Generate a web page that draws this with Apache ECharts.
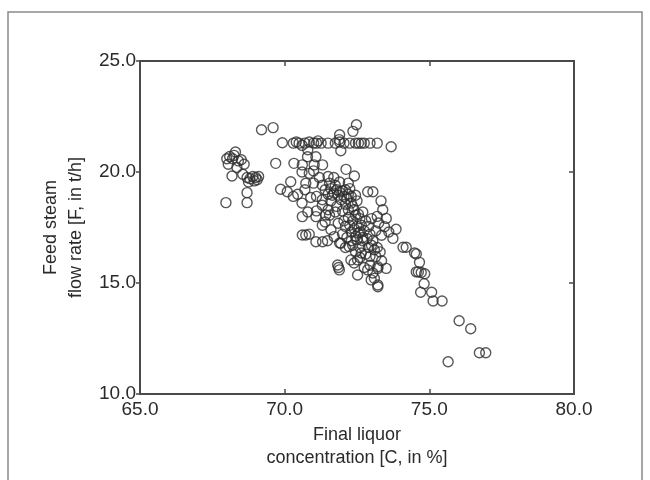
<!DOCTYPE html>
<html><head><meta charset="utf-8">
<script src="https://cdn.jsdelivr.net/npm/echarts@6/dist/echarts.min.js"></script>
<style>html,body{margin:0;padding:0;background:#fff}#c{width:650px;height:480px}</style>
</head><body><div id="c"></div>
<script>
const xTicks = [65, 70, 75, 80];
const yTicks = [10, 15, 20, 25];
const xTitle = 'Final liquor\nconcentration [C, in %]';
const yTitle = 'Feed steam\nflow rate [F, in t/h]';
// Final liquor concentration [%]
const concentration = [
67.97,68.0,68.05,68.1,68.2,68.3,68.18,68.4,68.5,68.6,68.55,68.7,68.8,68.9,69.0,69.1,68.75,68.95,68.7,68.7,68.35,69.05,68.25,
69.2,69.6,69.69,
69.92,70.3,70.4,70.5,70.6,70.7,70.85,71.0,71.15,71.26,71.5,71.75,71.9,72.05,72.25,72.45,72.55,72.65,72.75,72.95,73.2,71.1,70.8,72.48,72.36,71.9,71.88,71.94,73.68,
70.32,70.61,70.79,71.08,71.02,71.31,70.85,70.73,70.21,69.86,70.09,72.12,72.41,70.6,71.0,71.2,
70.45,70.3,70.7,70.9,70.6,70.8,71.1,71.3,71.5,71.0,71.3,71.4,71.5,71.55,71.6,71.7,71.75,71.8,71.85,71.9,72.0,72.05,72.1,72.2,72.25,72.3,71.5,71.7,71.9,72.2,71.1,71.3,71.6,71.8,72.0,72.1,72.2,72.3,72.4,72.5,72.45,72.2,72.35,72.5,72.6,72.65,72.75,72.3,72.1,72.0,71.85,72.55,72.7,72.8,72.9,72.95,73.0,72.6,72.45,
71.9,72.1,72.23,72.3,72.5,72.6,72.7,72.85,73.0,73.1,73.2,73.3,72.8,72.95,72.29,72.52,72.4,72.6,72.75,72.87,72.95,73.05,73.22,73.22,73.51,73.1,73.22,73.22,72.99,72.52,71.83,71.89,71.86,73.15,73.35,
70.61,70.61,70.73,70.85,71.08,71.31,71.48,71.71,71.08,71.42,71.94,71.6,71.3,
72.87,73.05,73.33,73.39,73.51,73.45,73.85,73.74,73.6,73.35,73.25,73.2,74.09,74.2,74.49,74.55,74.66,74.55,74.62,74.72,74.84,74.82,74.7,75.08,75.13,75.44,76.03,76.43,76.73,76.95,75.65,
71.65,71.95,72.15,72.35,72.45,72.05,72.25,72.4,72.55,72.7,72.15,72.35,72.45,72.65,72.9,73.05,73.15,71.75,71.55,71.4
];
// Feed steam flow rate [t/h]
const flowRate = [
18.62,20.6,20.35,20.7,20.6,20.9,19.82,20.5,20.55,20.35,19.9,19.75,19.7,19.8,19.75,19.8,19.55,19.6,19.07,18.62,20.2,19.65,20.75,
21.9,22.0,20.39,
21.32,21.3,21.35,21.3,21.2,21.3,21.35,21.3,21.4,21.3,21.3,21.3,21.35,21.3,21.3,21.3,21.3,21.3,21.3,21.3,21.3,21.3,21.0,22.13,21.83,21.68,21.46,20.96,21.14,
20.39,20.32,20.69,20.69,20.32,20.32,19.94,19.49,19.56,19.22,19.11,20.12,19.82,20.0,20.05,19.75,
19.0,18.9,19.2,18.85,18.6,18.2,18.25,18.5,18.3,19.5,19.4,19.2,19.0,19.5,19.25,19.05,19.4,19.2,18.95,19.1,19.15,18.9,19.2,19.0,19.25,18.9,19.8,19.75,19.55,19.5,18.9,18.75,18.7,18.45,18.25,18.55,18.3,18.6,18.3,18.7,18.95,17.95,17.8,17.55,17.9,17.6,17.35,17.3,17.55,17.2,17.69,18.1,18.2,17.8,17.55,17.2,17.9,17.3,17.1,
16.8,16.6,16.64,16.9,16.95,16.6,16.9,17.0,16.7,16.5,16.6,16.4,16.3,16.2,16.04,16.04,15.9,16.15,15.7,15.59,15.8,15.45,15.66,15.73,15.66,15.21,14.91,14.83,15.14,15.36,15.81,15.59,15.7,16.2,16.0,
17.99,17.16,17.16,17.2,16.86,16.86,16.9,17.09,17.99,18.06,16.79,17.4,17.6,
19.11,19.11,18.7,18.3,17.91,17.54,17.42,17.01,17.3,17.15,17.7,18.0,16.61,16.61,16.35,16.31,15.93,15.5,15.5,15.47,15.42,14.97,14.58,14.58,14.19,14.19,13.3,12.94,11.86,11.86,11.45,
18.95,18.75,18.8,18.45,18.05,17.8,17.6,17.45,17.25,17.05,17.05,16.7,16.4,16.35,16.6,16.9,17.35,18.2,18.05,17.75
];
const points = concentration.map((c, i) => [c, flowRate[i]]);
const axisColor = '#4a4a4a';
const textColor = '#2a2a2a';
const font = '"Liberation Sans", Arial, sans-serif';
const chart = echarts.init(document.getElementById('c'));
chart.setOption({
  animation: false,
  backgroundColor: '#fff',
  graphic: [{
    type: 'rect', shape: {x: 8, y: 12, width: 634, height: 480},
    style: {fill: 'none', stroke: '#8a8a8a', lineWidth: 1.5}, silent: true
  }],
  grid: {left: 140, right: 76, top: 61, bottom: 86, show: true, borderColor: axisColor, borderWidth: 2},
  xAxis: [{
    type: 'value', min: xTicks[0], max: xTicks[xTicks.length - 1], interval: 5,
    splitLine: {show: false},
    axisLine: {lineStyle: {color: axisColor, width: 2}},
    axisTick: {inside: true, length: 5, lineStyle: {color: axisColor, width: 1.5}},
    axisLabel: {fontFamily: font, fontSize: 19, color: textColor, margin: 6, formatter: v => v.toFixed(1)},
    name: xTitle, nameLocation: 'middle', nameGap: 28,
    nameTextStyle: {fontFamily: font, fontSize: 18, color: textColor, lineHeight: 23}
  }, {
    type: 'value', position: 'top', min: xTicks[0], max: xTicks[xTicks.length - 1], interval: 5,
    splitLine: {show: false}, axisLabel: {show: false},
    axisLine: {lineStyle: {color: axisColor, width: 2}},
    axisTick: {inside: true, length: 5, lineStyle: {color: axisColor, width: 1.5}}
  }],
  yAxis: [{
    type: 'value', min: yTicks[0], max: yTicks[yTicks.length - 1], interval: 5,
    splitLine: {show: false},
    axisLine: {show: true, lineStyle: {color: axisColor, width: 2}},
    axisTick: {show: true, inside: false, length: 4, lineStyle: {color: axisColor, width: 1.5}},
    axisLabel: {fontFamily: font, fontSize: 19, color: textColor, margin: 4, formatter: v => v.toFixed(1)},
    name: yTitle, nameLocation: 'middle', nameGap: 50,
    nameTextStyle: {fontFamily: font, fontSize: 18, color: textColor, lineHeight: 25}
  }, {
    type: 'value', position: 'right', min: yTicks[0], max: yTicks[yTicks.length - 1], interval: 5,
    splitLine: {show: false}, axisLabel: {show: false},
    axisLine: {show: true, lineStyle: {color: axisColor, width: 2}},
    axisTick: {show: true, inside: true, length: 5, lineStyle: {color: axisColor, width: 1.5}}
  }],
  series: [{
    type: 'scatter', data: points, symbol: 'circle', symbolSize: 10,
    itemStyle: {color: 'rgba(0,0,0,0)', borderColor: '#2e2e2e', borderWidth: 1.4}
  }]
});
</script></body></html>
